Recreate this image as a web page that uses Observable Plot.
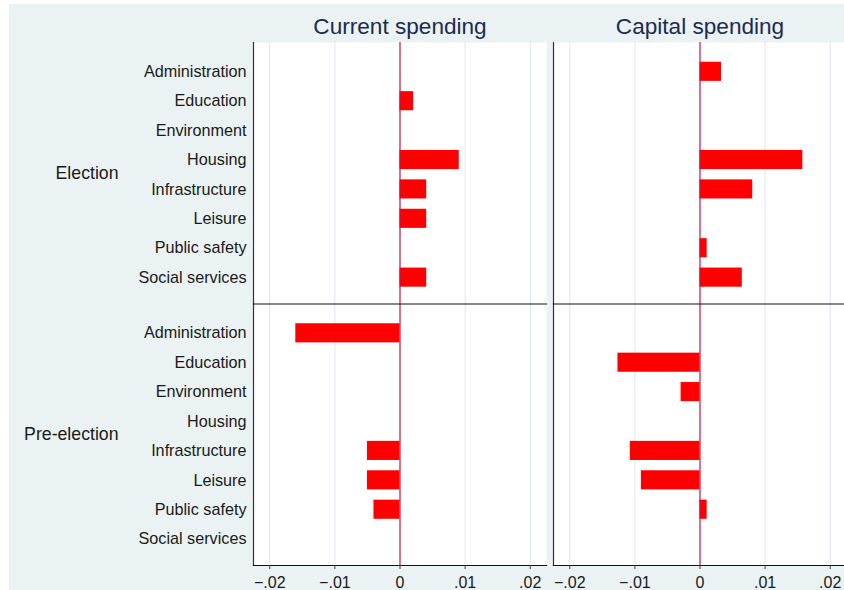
<!DOCTYPE html>
<html>
<head>
<meta charset="utf-8">
<script src="https://cdn.jsdelivr.net/npm/d3@7"></script>
<script src="https://cdn.jsdelivr.net/npm/@observablehq/plot@0.6"></script>
<style>
  html, body { margin: 0; padding: 0; background: #ffffff; overflow: hidden; width: 844px; height: 590px; }
  #bg { position: absolute; left: 9px; top: 4px; width: 840px; height: 590px; background: #eaf2f3; }
  #chart { position: absolute; left: 0; top: 0; }
</style>
</head>
<body>
<div id="bg"></div>
<div id="chart"></div>
<script>
const categories = ["Administration", "Education", "Environment", "Housing", "Infrastructure", "Leisure", "Public safety", "Social services"];
const groups = ["Election", "Pre-election"];
const panels = ["Current spending", "Capital spending"];

const currentElection    = [null, 0.0021, null, 0.0091, 0.0041, 0.0041, null, 0.0041];
const currentPreElection = [-0.0160, null, null, null, -0.0050, -0.0050, -0.0040, null];
const capitalElection    = [0.0033, null, null, 0.0158, 0.0081, null, 0.0011, 0.0065];
const capitalPreElection = [null, -0.0126, -0.0029, null, -0.0107, -0.0090, 0.0011, null];

const xTicks = [-0.02, -0.01, 0, 0.01, 0.02];

const series = [
  {panel: panels[0], group: groups[0], values: currentElection},
  {panel: panels[0], group: groups[1], values: currentPreElection},
  {panel: panels[1], group: groups[0], values: capitalElection},
  {panel: panels[1], group: groups[1], values: capitalPreElection}
];
const data = series.flatMap(s => s.values.map((v, i) => ({panel: s.panel, group: s.group, cat: categories[i], value: v})))
  .filter(d => d.value != null);

const fmt = d => d === 0 ? "0" : (d < 0 ? "\u2212" : "") + Math.abs(d).toFixed(2).replace(/^0/, "");

const font = "'Liberation Sans', Arial, Helvetica, sans-serif";

const chart = Plot.plot({
  width: 846,
  height: 590,
  marginTop: 42,
  marginBottom: 25,
  marginLeft: 253,
  marginRight: 0,
  facet: {marginTop: 0, marginRight: 0, marginBottom: 0, marginLeft: 0},
  style: {background: "transparent", fontFamily: font, maxWidth: "none", overflow: "visible"},
  fx: {domain: panels, axis: null, paddingInner: 7 / 300, paddingOuter: 0, round: false},
  fy: {domain: groups, axis: null, paddingInner: 0, paddingOuter: 0, round: false},
  x: {domain: [-0.0225, 0.0225]},
  y: {domain: categories, paddingInner: 0.35, paddingOuter: 0.622, align: 0.54, round: false},
  marks: [
    Plot.frame({fill: "white", stroke: null}),
    Plot.gridX({ticks: [-0.02, -0.01, 0.01, 0.02], stroke: "#dde7ec", strokeOpacity: 1, strokeWidth: 1}),
    Plot.barX(data, {x: "value", y: "cat", fx: "panel", fy: "group", fill: "#ff0000"}),
    Plot.ruleX([0], {stroke: "#c8123f", strokeWidth: 1.2}),
    Plot.frame({anchor: "left", stroke: "#333333", strokeWidth: 1.2}),
    Plot.frame({anchor: "bottom", stroke: "#111111", strokeWidth: 1.2}),
    Plot.axisY({tickSize: 0, tickPadding: 7, fontSize: 16.2, label: null, fill: "#1a1a1a"}),
    Plot.axisX({ticks: xTicks, tickFormat: fmt, tickSize: 4, tickPadding: 7, fontSize: 16, label: null, stroke: "#444", fill: "#1a1a1a"}),
    Plot.text(panels, {fx: d => d, fy: () => groups[0], text: d => d, frameAnchor: "top", dy: -16, lineAnchor: "middle", fontSize: 22.6, fill: "#1c2b50"}),
    Plot.text(groups, {fy: d => d, fx: () => panels[0], text: d => d, frameAnchor: "left", dx: -135, textAnchor: "end", fontSize: 17.7, fill: "#1a1a1a"})
  ]
});
document.getElementById("chart").appendChild(chart);
</script>
</body>
</html>
